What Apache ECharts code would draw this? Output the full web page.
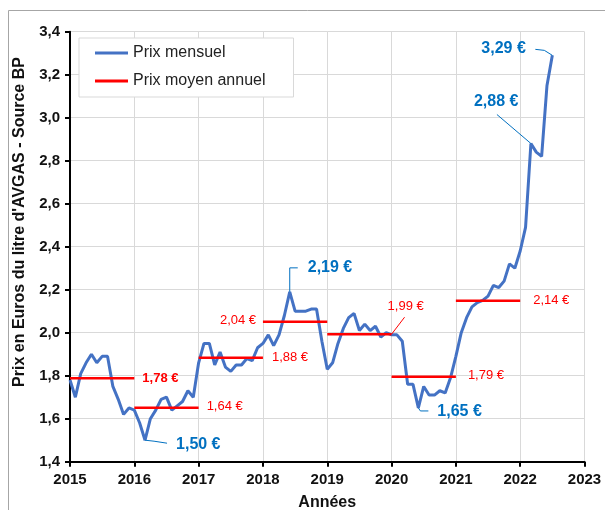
<!DOCTYPE html>
<html>
<head>
<meta charset="utf-8">
<script src="https://cdn.jsdelivr.net/npm/echarts@6/dist/echarts.min.js"></script>
<style>
  html, body { margin: 0; padding: 0; background: #fff; }
  #chart { width: 605px; height: 510px; }
</style>
</head>
<body>
<div id="chart"></div>
<script>
// prix mensuel AVGAS, de janvier 2015 a juillet 2022
const startYear = 2015
const monthlyPrice = [
  1.78, 1.70, 1.81, 1.86, 1.90, 1.86, 1.89, 1.89, 1.75, 1.69, 1.62, 1.65,
  1.64, 1.58, 1.50, 1.60, 1.64, 1.69, 1.70, 1.64, 1.66, 1.68, 1.73, 1.70,
  1.86, 1.95, 1.95, 1.85, 1.91, 1.84, 1.82, 1.85, 1.85, 1.88, 1.87, 1.93,
  1.95, 1.99, 1.94, 1.99, 2.08, 2.19, 2.10, 2.10, 2.10, 2.11, 2.11, 1.96,
  1.83, 1.86, 1.95, 2.02, 2.07, 2.09, 2.01, 2.04, 2.01, 2.03, 1.98, 2.00,
  1.99, 1.99, 1.96, 1.76, 1.76, 1.65, 1.75, 1.71, 1.71, 1.73, 1.72, 1.79,
  1.89, 2.00, 2.07, 2.12, 2.14, 2.15, 2.17, 2.22, 2.21, 2.24, 2.32, 2.30,
  2.38, 2.49, 2.88, 2.84, 2.82, 3.15, 3.29
]

// moyenne annuelle
const avgYears = [2015, 2016, 2017, 2018, 2019, 2020, 2021]
const avgPrice = [1.788, 1.651, 1.884, 2.051, 1.993, 1.795, 2.149]
const avgText = ['1,78 €', '1,64 €', '1,88 €', '2,04 €', '1,99 €', '1,79 €', '2,14 €']

// points remarquables (index du mois)
const peakIndex = [14, 41, 65, 86, 90]
const peakText = ['1,50 €', '2,19 €', '1,65 €', '2,88 €', '3,29 €']

const FONT = 'Liberation Sans, Arial, sans-serif'
const BLUE = '#4472C4'
const BLUE_TXT = '#0070C0'
const RED = '#FF0000'

// positions des etiquettes (decalage en px depuis le point) et traits de rappel
const peakLayout = [
  { dx: 31, dy: 4, lead: [[0, 0], [9, 1], [22, 3]] },
  { dx: 18, dy: -24, lead: [[0, 0], [0, -24], [8, -24]] },
  { dx: 19, dy: 4, lead: [[0, 0], [2, 3], [10, 3]] },
  { dx: -57, dy: -42, lead: [[0, 0], [-34, -29]] },
  { dx: -71, dy: -7, lead: [[0, 0], [-8, -5], [-17, -6]] }
]
const avgLayout = [
  { end: 1, dx: 8, dy: 0, bold: true },
  { end: 1, dx: 8, dy: -1 },
  { end: 1, dx: 9, dy: 0 },
  { end: 0, dx: -43, dy: -1 },
  { end: 1, dx: -4, dy: -28, lead: [[0, 0], [13, -17]] },
  { end: 1, dx: 12, dy: -1 },
  { end: 1, dx: 13, dy: 0 }
]

const monthlyData = monthlyPrice.map((v, i) => [startYear + i / 12, v])
const avgData = []
avgYears.forEach((y, i) => {
  avgData.push([y, avgPrice[i]], [y + 1, avgPrice[i]], [y + 1, '-'])
})

const chart = echarts.init(document.getElementById('chart'))

chart.setOption({
  animation: false,
  textStyle: { fontFamily: FONT },
  grid: { left: 70, right: 20.5, top: 31.7, bottom: 48.3, outerBoundsMode: 'none', containLabel: false },
  legend: {
    orient: 'vertical',
    left: 79,
    top: 38,
    padding: [6, 28, 7, 16],
    itemGap: 10,
    itemWidth: 33,
    itemHeight: 3,
    itemTextGap: 2,
    icon: 'rect',
    borderColor: '#D9D9D9',
    borderWidth: 1,
    backgroundColor: '#fff',
    textStyle: { fontSize: 16, lineHeight: 18, color: '#222', fontFamily: FONT },
    data: ['Prix mensuel', 'Prix moyen annuel']
  },
  xAxis: {
    type: 'value',
    min: 2015,
    max: 2023,
    interval: 1,
    name: 'Années',
    nameLocation: 'middle',
    nameGap: 33,
    nameTextStyle: { fontSize: 16, fontWeight: 'bold', color: '#111', fontFamily: FONT },
    axisLine: { lineStyle: { color: '#000', width: 2 } },
    axisTick: { show: true, length: 5, lineStyle: { color: '#000', width: 2 } },
    axisLabel: { formatter: v => String(v), fontSize: 15, fontWeight: 'bold', color: '#111', margin: 11 },
    splitLine: { show: true, lineStyle: { color: '#D9D9D9', width: 1 } }
  },
  yAxis: {
    type: 'value',
    min: 1.4,
    max: 3.4,
    interval: 0.2,
    axisLine: { show: true, lineStyle: { color: '#000', width: 2 } },
    axisTick: { show: true, length: 5, lineStyle: { color: '#000', width: 2 } },
    axisLabel: { formatter: v => v.toFixed(1).replace('.', ','), fontSize: 15, fontWeight: 'bold', color: '#111', margin: 10 },
    splitLine: { show: true, lineStyle: { color: '#D9D9D9', width: 1 } }
  },
  series: [
    {
      name: 'Prix mensuel',
      type: 'line',
      data: monthlyData,
      symbol: 'none',
      z: 3,
      lineStyle: { color: BLUE, width: 3 },
      itemStyle: { color: BLUE }
    },
    {
      name: 'Prix moyen annuel',
      type: 'line',
      data: avgData,
      symbol: 'none',
      connectNulls: false,
      z: 4,
      lineStyle: { color: RED, width: 2.5 },
      itemStyle: { color: RED }
    }
  ]
})

// etiquettes et traits, places depuis les coordonnees des donnees
const graphics = []
graphics.push({
  type: 'rect',
  shape: { x: 8.5, y: 10.5, width: 640, height: 540 },
  style: { fill: 'none', stroke: '#A6A6A6', lineWidth: 1 },
  silent: true,
  z: -10
})
graphics.push({
  type: 'text',
  x: 20,
  y: 222,
  rotation: Math.PI / 2,
  style: {
    text: "Prix en Euros du litre d'AVGAS - Source BP",
    font: 'bold 16px ' + FONT,
    fill: '#111',
    textAlign: 'center',
    textVerticalAlign: 'middle'
  }
})

peakIndex.forEach((idx, i) => {
  const p = chart.convertToPixel({ gridIndex: 0 }, monthlyData[idx])
  const lay = peakLayout[i]
  graphics.push({
    type: 'polyline',
    shape: { points: lay.lead.map(o => [p[0] + o[0], p[1] + o[1]]) },
    style: { stroke: BLUE_TXT, lineWidth: 1, fill: 'none' },
    z: 10
  })
  graphics.push({
    type: 'text',
    x: p[0] + lay.dx,
    y: p[1] + lay.dy,
    style: {
      text: peakText[i],
      font: 'bold 16px ' + FONT,
      fill: BLUE_TXT,
      textAlign: 'left',
      textVerticalAlign: 'middle'
    },
    z: 10
  })
})

avgYears.forEach((y, i) => {
  const lay = avgLayout[i]
  const p = chart.convertToPixel({ gridIndex: 0 }, [y + lay.end, avgPrice[i]])
  if (lay.lead) {
    graphics.push({
      type: 'polyline',
      shape: { points: lay.lead.map(o => [p[0] + o[0], p[1] + o[1]]) },
      style: { stroke: RED, lineWidth: 1, fill: 'none' },
      z: 10
    })
  }
  graphics.push({
    type: 'text',
    x: p[0] + lay.dx,
    y: p[1] + lay.dy,
    style: {
      text: avgText[i],
      font: (lay.bold ? 'bold ' : '') + '13px ' + FONT,
      fill: RED,
      textAlign: 'left',
      textVerticalAlign: 'middle'
    },
    z: 10
  })
})

chart.setOption({ graphic: graphics })
</script>
</body>
</html>
